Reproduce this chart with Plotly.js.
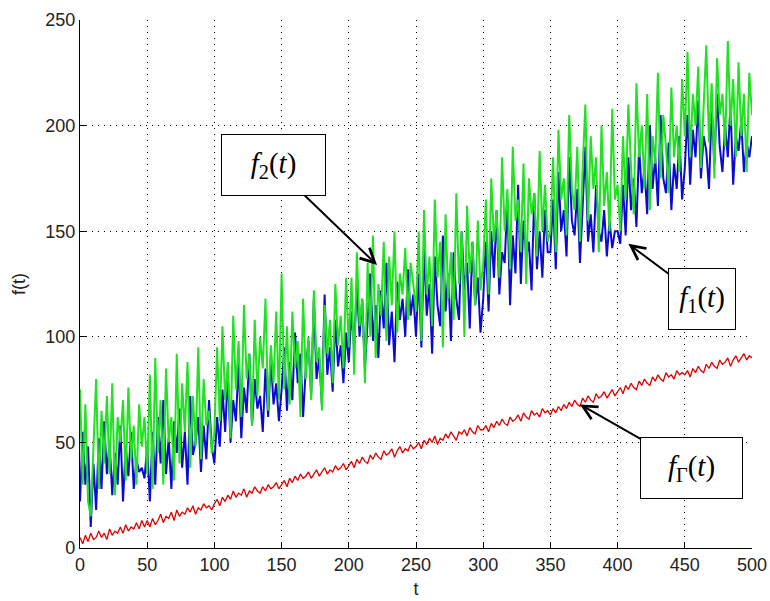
<!DOCTYPE html>
<html>
<head>
<meta charset="utf-8">
<script src="https://cdn.plot.ly/plotly-3.0.1.min.js"></script>
<style>html,body{margin:0;padding:0;background:#fff;}#chart{width:770px;height:601px;}</style>
</head>
<body>
<div id="chart"></div>
<script>
const tStep = 2;

// f1(t) - blue
const f1 = [
  22,55,30,48,10,40,18,52,28,60,35,50,25,45,30,58,22,48,34,55,28,42,36,38,33,
  48,22,55,30,62,40,70,35,52,28,60,45,66,38,55,30,72,44,50,62,36,58,42,70,48,
  40,62,48,75,55,82,50,70,60,88,52,76,64,92,58,80,66,72,55,85,62,90,68,78,60,
  75,95,65,88,70,102,78,92,62,85,98,72,118,80,90,68,120,82,95,74,108,86,96,78,102,
  88,112,95,125,100,118,85,108,130,98,115,90,122,104,135,96,112,88,126,108,118,100,132,110,120,
  100,130,95,142,110,125,92,138,115,105,148,112,130,98,140,118,108,150,122,135,104,145,115,128,102,
  118,145,112,150,128,160,120,140,135,165,115,148,130,172,125,155,138,145,122,168,132,150,128,160,140,
  140,165,132,178,150,160,138,185,155,148,170,135,162,190,145,158,140,172,150,145,160,138,155,142,150,
  150,144,172,148,185,160,175,152,190,168,180,158,200,170,185,162,205,175,168,192,160,182,170,195,165,
  180,205,172,198,185,212,175,195,188,170,208,182,215,190,178,200,185,210,172,195,188,202,178,192,185,
  195
];

// f2(t) - green
const f2 = [
  75,30,68,22,15,45,80,28,65,40,72,35,78,25,62,50,70,32,76,42,58,30,68,48,62,
  35,82,28,90,45,70,30,85,50,62,32,92,40,78,55,88,38,72,48,95,42,80,58,65,45,
  55,95,60,105,70,88,52,110,75,98,62,115,80,92,58,108,72,100,85,118,65,96,78,112,70,
  130,75,105,68,112,85,98,62,118,80,100,70,122,88,95,65,115,92,108,78,125,96,110,85,128,
  95,128,82,140,105,118,78,135,100,148,90,125,110,145,98,138,115,150,102,130,120,142,108,135,125,
  112,150,98,160,120,138,105,165,128,145,95,158,118,140,108,168,125,150,100,162,130,145,115,155,122,
  135,165,120,175,145,160,128,185,150,170,132,190,155,165,140,182,125,175,158,168,138,188,150,172,145,
  150,185,140,198,165,175,148,205,170,160,190,145,180,210,155,195,170,185,140,200,162,178,150,208,165,
  172,150,195,165,210,180,158,220,185,200,170,215,160,195,182,225,175,205,190,168,218,185,200,178,222,
  195,235,185,215,200,228,180,210,238,192,220,175,232,205,215,190,240,200,222,185,230,195,215,178,225,
  205
];

// fГ(t) - red
const fr = [
  5,2,6,3,7,4,5,8,5,7,4,9,6,8,7,10,7,11,8,10,9,12,9,13,10,
  13,10,14,11,13,16,12,15,14,17,13,18,15,17,16,19,17,20,16,19,18,21,19,20,18,
  21,23,20,24,22,25,23,27,24,26,25,28,24,27,26,29,27,26,29,27,30,28,29,31,28,
  30,32,29,33,31,34,32,35,33,34,36,33,35,37,34,36,38,35,37,36,39,37,38,40,37,
  39,41,38,42,40,43,41,40,44,42,45,43,42,46,44,45,47,43,46,48,45,47,46,49,47,
  48,50,47,51,49,52,50,53,49,52,51,54,52,55,53,51,55,54,56,53,57,55,54,58,56,
  56,58,55,59,57,60,58,61,59,58,62,60,61,63,60,64,62,61,65,63,64,62,66,64,65,
  63,66,64,67,65,68,66,69,67,70,68,67,71,69,72,70,69,73,71,72,74,71,73,75,72,
  74,76,73,77,75,78,76,75,79,77,80,78,77,81,79,82,80,79,83,81,82,80,84,82,83,
  82,84,81,85,83,86,84,83,87,85,88,86,85,89,87,88,90,86,89,91,88,90,92,89,91,
  90
];

const xTicks = [0,50,100,150,200,250,300,350,400,450,500];
const yTicks = [0,50,100,150,200,250];

// annotation targets (data coords) and labels
const labels = ['<i>f</i><sub>2</sub>(<i>t</i>)', '<i>f</i><sub>1</sub>(<i>t</i>)', '<i>f</i><sub>Г</sub>(<i>t</i>)'];
const labelX = [221, 408, 372];
const labelY = [134, 144, 68];

const t = f1.map((_, i) => i * tStep);

const traces = [
  {x: t, y: f1, type: 'scatter', mode: 'lines', line: {color: '#0a0ad2', width: 2}, hoverinfo: 'skip'},
  {x: t, y: f2, type: 'scatter', mode: 'lines', line: {color: '#22e022', width: 2}, hoverinfo: 'skip'},
  {x: t, y: fr, type: 'scatter', mode: 'lines', line: {color: '#e00000', width: 1.3}, hoverinfo: 'skip'}
];

const boxW = [103, 66, 101];
const axOff = [-104, 74, 112];
const ayOff = [-100, 55, 64];

const annotations = labels.map((txt, i) => ({
  x: labelX[i], y: labelY[i], xref: 'x', yref: 'y',
  text: txt, showarrow: true,
  ax: axOff[i], ay: ayOff[i],
  arrowhead: 5, arrowsize: 1.4, arrowwidth: 2, arrowcolor: '#000',
  bordercolor: '#000', borderwidth: 1, bgcolor: '#fff',
  width: boxW[i] - 2, height: 58, align: 'center', valign: 'middle',
  font: {family: 'Liberation Serif, Times New Roman, serif', size: 29, color: '#000'}
}));

const axisCommon = {
  showline: true, linecolor: '#000', linewidth: 1.2,
  ticks: 'inside', ticklen: 6, tickcolor: '#000', tickwidth: 1,
  showgrid: true, gridcolor: '#000', griddash: '1px,5px', gridwidth: 1,
  zeroline: false, mirror: false,
  tickfont: {family: 'Liberation Sans, Arial, sans-serif', size: 18, color: '#222'}
};

const layout = {
  width: 770, height: 601,
  margin: {l: 80, r: 18, t: 20, b: 53},
  paper_bgcolor: '#fff', plot_bgcolor: '#fff',
  showlegend: false,
  xaxis: Object.assign({}, axisCommon, {
    range: [0, 500], tickvals: xTicks, ticktext: xTicks.map(String),
    title: {text: 't', font: {family: 'Liberation Sans, Arial, sans-serif', size: 18, color: '#222'}, standoff: 8}
  }),
  yaxis: Object.assign({}, axisCommon, {
    range: [0, 250], tickvals: yTicks, ticktext: yTicks.map(String),
    title: {text: 'f(t)', font: {family: 'Liberation Sans, Arial, sans-serif', size: 18, color: '#222'}, standoff: 14}
  }),
  annotations: annotations
};

Plotly.newPlot('chart', traces, layout, {staticPlot: true, displayModeBar: false});
</script>
</body>
</html>
